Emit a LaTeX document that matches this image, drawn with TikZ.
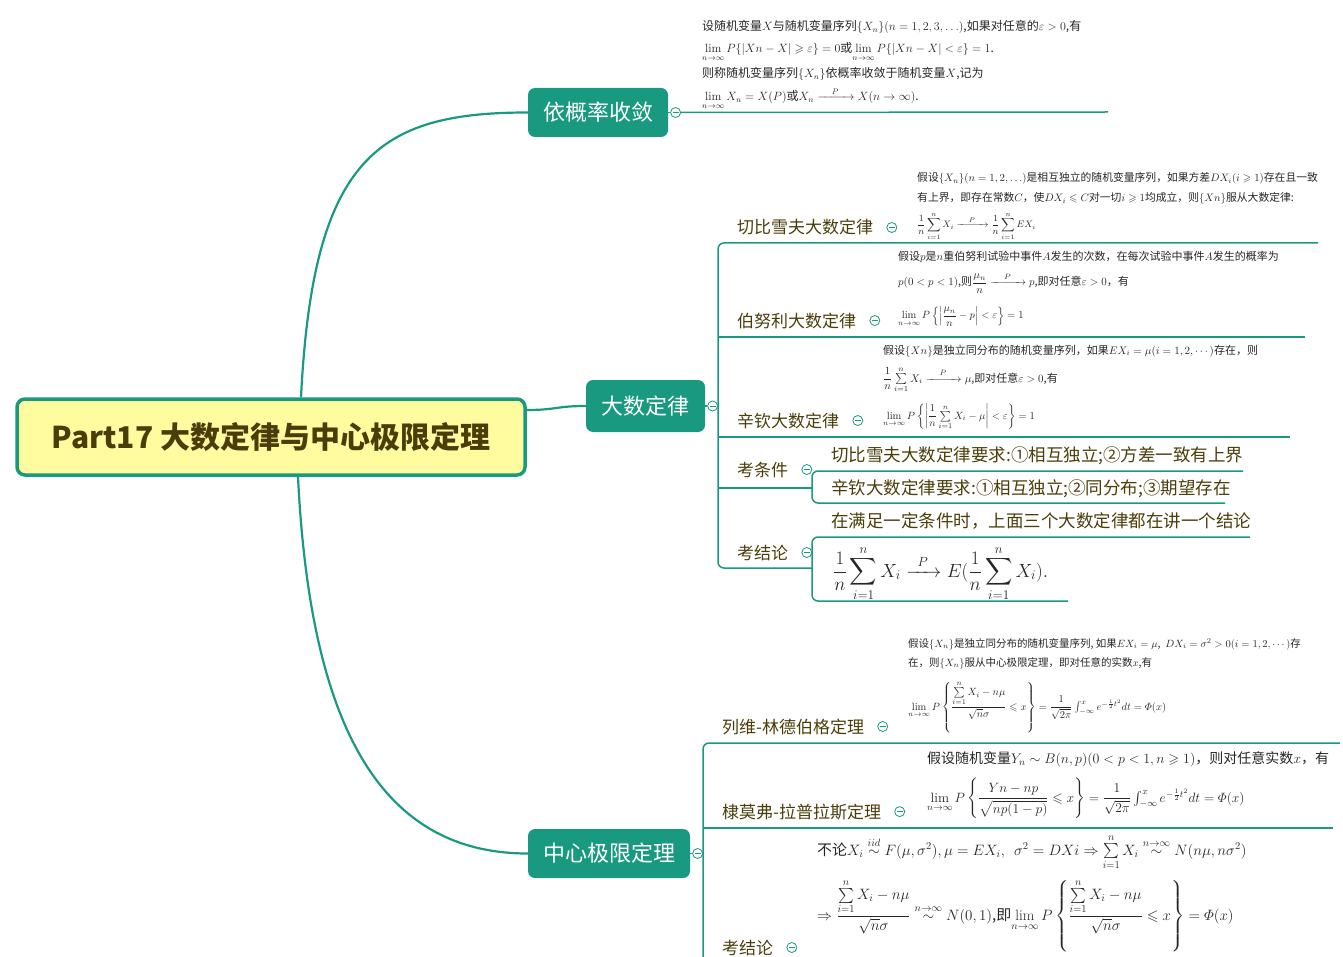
\RequirePackage{fix-cm}
\documentclass[tikz,border=0pt]{standalone}
\usepackage{amsmath,amssymb}
\usepackage{fontspec}
\newfontfamily\cjk{Noto Sans CJK SC}
\usetikzlibrary{positioning}
\definecolor{teal0}{HTML}{199A80}
\definecolor{olive0}{HTML}{4B3D0A}
\definecolor{yel0}{HTML}{FFFB9F}
\newcommand\fsz[1]{\fontsize{#1}{#1}\selectfont}
\tikzset{
	link/.style={draw=teal0,line width=1.5pt},
	limb/.style={draw=teal0,line width=2.2pt},
	rootbox/.style={draw=teal0,line width=3.5pt,fill=yel0,rounded corners=8pt,minimum width=508pt,minimum height=76pt,inner sep=0,font=\cjk\bfseries\fsz{30},text=olive0},
	topicbox/.style={fill=teal0,text=white,rounded corners=7pt,minimum height=49pt,inner sep=0,font=\cjk\fsz{22}},
	leaf/.style={font=\cjk\fsz{17},text=olive0,anchor=base west,inner sep=0},
	cond/.style={font=\cjk\fsz{17.5},text=olive0,anchor=base west,inner sep=0},
	note/.style={font=\cjk\fsz{12},text=black!85,anchor=base west,inner sep=0},
	fold/.style={circle,draw=teal0,fill=white,line width=0.8pt,minimum size=10pt,inner sep=0,
		path picture={\draw[teal0,line width=0.8pt] ([xshift=-3pt]path picture bounding box.center) -- ([xshift=3pt]path picture bounding box.center);}}
}
\begin{document}
\begin{tikzpicture}[x=1pt,y=-1pt]
	\path[use as bounding box,clip] (0,0) rectangle (1343,957);
	\node[rootbox] (root) at (271,437) {Part17 大数定律与中心极限定理};
	\node[topicbox,minimum width=140pt] (conv) at (598,112.5) {依概率收敛};
	\node[topicbox,minimum width=119pt,minimum height=52pt] (lln) at (645.5,406) {大数定律};
	\node[topicbox,minimum width=162pt] (clt) at (609,853.5) {中心极限定理};
	\node[fold,right=2pt of conv] (fconv) {};
	\node[fold,right=2pt of lln] (flln) {};
	\node[fold,right=2pt of clt] (fclt) {};
	\draw[limb] ([xshift=30pt]root.north) .. controls +(12,-240) and +(-150,0) .. (conv.west);
	\draw[limb] ([yshift=27pt]root.east) .. controls +(30,0) and +(-30,0) .. (lln.west);
	\draw[limb] ([xshift=27pt]root.south) .. controls +(12,245) and +(-150,0) .. (clt.west);

	\coordinate (aend) at (1108,112);
	\draw[link] (conv) -- (fconv);
	\draw[link] (fconv) -- (aend);
	\node[note] (a1) at (702,31) {设随机变量$X$与随机变量序列$\{X_n\}(n=1,2,3,\ldots)$,如果对任意的$\varepsilon>0$,有};
	\node[note] (a2) at (702,53) {$\lim\limits_{n\to\infty}P\{|Xn-X|\geqslant\varepsilon\}=0$或$\lim\limits_{n\to\infty}P\{|Xn-X|<\varepsilon\}=1$.};
	\node[note] (a3) at (702,78) {则称随机变量序列$\{X_n\}$依概率收敛于随机变量$X$,记为};
	\node[note] (a4) at (702,101) {$\lim\limits_{n\to\infty}X_n=X(P)$或$X_n\xrightarrow{\quad P\quad}X(n\to\infty)$.};

	\coordinate (v1t) at (718,243);
	\coordinate (v1b) at (718,568);
	\coordinate (u1) at (1318,243);
	\coordinate (u2) at (1305,337);
	\coordinate (u3) at (1290,437);
	\coordinate (u4) at (812,488);
	\coordinate (u5) at (812,568);
	\draw[link] (lln) -- (flln);
	\draw[link,rounded corners=6pt] (u1) -- (v1t) -- (v1b) -- (u5);
	\draw[link] (u2 -| v1t) -- (u2);
	\draw[link] (u3 -| v1t) -- (u3);
	\draw[link] (u4 -| v1t) -- (u4);

	\node[leaf] (l1) at (737,234) {切比雪夫大数定律};
	\node[leaf] (l2) at (737,327) {伯努利大数定律};
	\node[leaf] (l3) at (737,427) {辛钦大数定律};
	\node[leaf] (l4) at (737,476) {考条件};
	\node[leaf] (l5) at (737,559) {考结论};
	\node[fold,right=13pt of l1] (f1) {};
	\node[fold,right=13pt of l2] (f2) {};
	\node[fold,right=13pt of l3] (f3) {};
	\node[fold,right=13pt of l4] (f4) {};
	\node[fold,right=13pt of l5] (f5) {};

	\node[note,font=\cjk\fsz{10.8}] (b1) at (917,182) {假设$\{X_n\}(n=1,2,\ldots)$是相互独立的随机变量序列，如果方差$DX_i(i\geqslant1)$存在且一致};
	\node[note,font=\cjk\fsz{10.8}] (b2) at (917,202) {有上界，即存在常数$C$，使$DX_i\leqslant C$对一切$i\geqslant1$均成立，则$\{Xn\}$服从大数定律:};
	\node[note,font=\cjk\fsz{9.5}] (b3) at (917,228) {$\displaystyle\frac1n\sum_{i=1}^nX_i\xrightarrow{\quad P\quad}\frac1n\sum_{i=1}^nEX_i$};

	\node[note,font=\cjk\fsz{11}] (c1) at (898,261) {假设$p$是$n$重伯努利试验中事件$A$发生的次数，在每次试验中事件$A$发生的概率为};
	\node[note,font=\cjk\fsz{11}] (c2) at (898,286) {$p(0<p<1)$,则$\dfrac{\mu_n}{n}\xrightarrow{\quad P\quad}p$,即对任意$\varepsilon>0$，有};
	\node[note,font=\cjk\fsz{10.5}] (c3) at (898,319) {$\lim\limits_{n\to\infty}P\left\{\left|\dfrac{\mu_n}{n}-p\right|<\varepsilon\right\}=1$};

	\node[note,font=\cjk\fsz{11}] (d1) at (883,354) {假设$\{Xn\}$是独立同分布的随机变量序列，如果$EX_i=\mu(i=1,2,\cdots)$存在，则};
	\node[note,font=\cjk\fsz{11}] (d2) at (883,382) {$\dfrac1n\sum\limits_{i=1}^nX_i\xrightarrow{\quad P\quad}\mu$,即对任意$\varepsilon>0$,有};
	\node[note,font=\cjk\fsz{10.5}] (d3) at (883,419) {$\lim\limits_{n\to\infty}P\left\{\left|\dfrac1n\sum\limits_{i=1}^nX_i-\mu\right|<\varepsilon\right\}=1$};

	\coordinate (k1e) at (1243,471);
	\coordinate (k2e) at (1225,503);
	\coordinate (k3e) at (1250,537);
	\coordinate (k4e) at (1068,601);
	\draw[link,rounded corners=6pt] (k1e) -- (k1e -| u4) -- (k2e -| u4) -- (k2e);
	\draw[link,rounded corners=6pt] (k3e) -- (k3e -| u5) -- (k4e -| u5) -- (k4e);
	\node[cond] (k1) at (831,461) {切比雪夫大数定律要求:①相互独立;②方差一致有上界};
	\node[cond] (k2) at (831,494) {辛钦大数定律要求:①相互独立;②同分布;③期望存在};
	\node[cond] (k3) at (831,527) {在满足一定条件时，上面三个大数定律都在讲一个结论};
	\node[note,font=\fsz{19}] (k4) at (833,577) {$\displaystyle\frac1n\sum_{i=1}^nX_i\xrightarrow{\;\;P\;\;}E(\frac1n\sum_{i=1}^nX_i).$};

	\coordinate (v2t) at (703,743);
	\coordinate (w1) at (1340,743);
	\coordinate (w2) at (1333,828);
	\draw[link] (clt) -- (fclt);
	\draw[link,rounded corners=6pt] (w1) -- (v2t) -- (703,970);
	\draw[link] (w2 -| v2t) -- (w2);

	\node[leaf] (m1) at (722,733) {列维-林德伯格定理};
	\node[leaf] (m2) at (722,818) {棣莫弗-拉普拉斯定理};
	\node[leaf] (m3) at (722,954) {考结论};
	\node[fold,right=13pt of m1] (g1f) {};
	\node[fold,right=13pt of m2] (g2f) {};
	\node[fold,right=13pt of m3] (g3f) {};

	\node[note,font=\cjk\fsz{10.5}] (e1) at (908,647) {假设$\{X_n\}$是独立同分布的随机变量序列, 如果$EX_i=\mu$, \ $DX_i=\sigma^2>0(i=1,2,\cdots)$存};
	\node[note,font=\cjk\fsz{10.5}] (e2) at (908,666) {在，则$\{X_n\}$服从中心极限定理，即对任意的实数$x$,有};
	\node[note,font=\cjk\fsz{10.5}] (e3) at (908,710) {$\lim\limits_{n\to\infty}P\left\{\dfrac{\sum\limits_{i=1}^nX_i-n\mu}{\sqrt n\sigma}\leqslant x\right\}=\dfrac1{\sqrt{2\pi}}\int_{-\infty}^xe^{-\frac12t^2}dt=\varPhi(x)$};

	\node[note,font=\cjk\fsz{14}] (h1) at (927,763) {假设随机变量$Y_n\sim B(n,p)(0<p<1,n\geqslant1)$，则对任意实数$x$，有};
	\node[note,font=\cjk\fsz{13.5}] (h2) at (927,802) {$\lim\limits_{n\to\infty}P\left\{\dfrac{Yn-np}{\sqrt{np(1-p)}}\leqslant x\right\}=\dfrac1{\sqrt{2\pi}}\int_{-\infty}^xe^{-\frac12t^2}dt=\varPhi(x)$};

	\node[note,font=\cjk\fsz{15}] (r1) at (817,855) {不论$X_i\overset{iid}{\sim}F(\mu,\sigma^2),\mu=EX_i,\ \ \sigma^2=DXi\Rightarrow\sum\limits_{i=1}^nX_i\overset{n\to\infty}{\sim}N(n\mu,n\sigma^2)$};
	\node[note,font=\cjk\fsz{15}] (r2) at (817,920) {$\Rightarrow\dfrac{\sum\limits_{i=1}^nX_i-n\mu}{\sqrt n\sigma}\overset{n\to\infty}{\sim}N(0,1)$,即$\lim\limits_{n\to\infty}P\left\{\dfrac{\sum\limits_{i=1}^nX_i-n\mu}{\sqrt n\sigma}\leqslant x\right\}=\varPhi(x)$};
\end{tikzpicture}
\end{document}
